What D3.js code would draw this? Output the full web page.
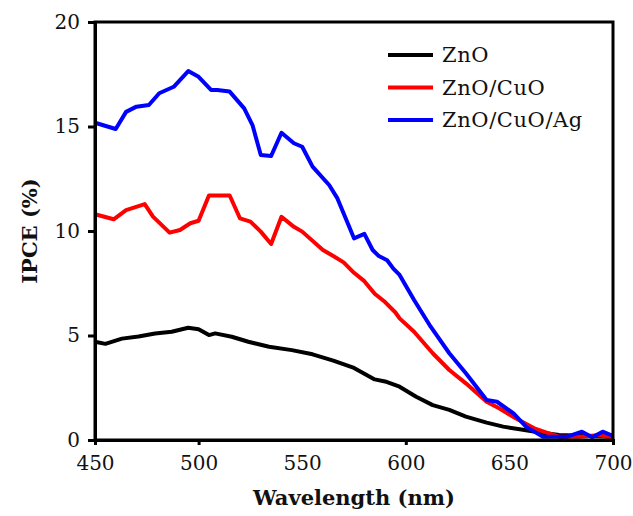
<!DOCTYPE html>
<html>
<head>
  <script src="https://d3js.org/d3.v7.min.js"></script>
  <style>
    body, html { margin: 0; padding: 0; background: #fff; overflow: hidden; }
    text { font-family: "DejaVu Serif", serif; fill: #111; }
  </style>
</head>
<body>
  <div id="chart"></div>
  <script>
    // series names and colours
    const seriesNames = ["ZnO", "ZnO/CuO", "ZnO/CuO/Ag"];
    const seriesColors = ["#000000", "#ff0000", "#0000ff"];

    // ZnO
    const znoWl = [450, 455, 463, 471, 479, 487, 495, 500, 505, 508, 516, 524, 534, 545, 555, 565, 575, 585, 590, 597, 605, 613, 621, 629, 639, 647, 655, 664, 674, 685, 700];
    const znoVal = [4.7, 4.6, 4.85, 4.95, 5.1, 5.18, 5.37, 5.3, 5.02, 5.1, 4.94, 4.7, 4.46, 4.3, 4.1, 3.8, 3.45, 2.9, 2.8, 2.55, 2.07, 1.67, 1.44, 1.12, 0.83, 0.64, 0.51, 0.37, 0.24, 0.2, 0.16];

    // ZnO/CuO
    const cuoWl = [450, 459, 465, 474, 478, 486, 491, 496, 500, 505, 515, 520, 525, 530, 535, 540, 546, 550, 560, 565, 570, 575, 580, 585, 590, 595, 597, 604, 613, 621, 629, 639, 645, 653, 662, 668, 674, 684, 694, 700];
    const cuoVal = [10.8, 10.56, 11.0, 11.29, 10.69, 9.92, 10.05, 10.37, 10.49, 11.7, 11.7, 10.6, 10.45, 9.97, 9.38, 10.68, 10.2, 9.97, 9.09, 8.8, 8.5, 8.0, 7.6, 7.0, 6.6, 6.1, 5.82, 5.18, 4.15, 3.35, 2.71, 1.83, 1.52, 1.04, 0.56, 0.35, 0.16, 0.16, 0.24, 0.05];

    // ZnO/CuO/Ag
    const agWl = [450, 460, 465, 470, 476, 481, 488, 495, 500, 506, 509, 515, 522, 526, 530, 535, 540, 546, 550, 555, 563, 567, 575, 580, 584, 587, 591, 594, 597, 604, 612, 621, 629, 639, 644, 652, 658, 666, 678, 685, 690, 695, 699, 700];
    const agVal = [15.18, 14.88, 15.7, 15.95, 16.03, 16.59, 16.9, 17.65, 17.38, 16.75, 16.75, 16.67, 15.87, 15.07, 13.64, 13.59, 14.7, 14.2, 14.03, 13.08, 12.2, 11.56, 9.65, 9.86, 9.09, 8.8, 8.6, 8.2, 7.9, 6.7, 5.42, 4.15, 3.19, 1.91, 1.83, 1.27, 0.64, 0.16, 0.16, 0.4, 0.13, 0.4, 0.24, 0.2];

    const xTicks = [450, 500, 550, 600, 650, 700];
    const yTicks = [0, 5, 10, 15, 20];

    const W = 633, H = 516;
    const m = { left: 95, right: 20, top: 22, bottom: 76 };

    const svg = d3.select("#chart").append("svg")
      .attr("width", W).attr("height", H);

    const x = d3.scaleLinear().domain([450, 700]).range([m.left, W - m.right]);
    const y = d3.scaleLinear().domain([0, 20]).range([H - m.bottom, m.top]);

    const series = [
      { wl: znoWl, val: znoVal },
      { wl: cuoWl, val: cuoVal },
      { wl: agWl, val: agVal }
    ];

    const line = d3.line().x(d => x(d[0])).y(d => y(d[1]));

    // curves
    series.forEach((s, i) => {
      svg.append("path")
        .datum(s.wl.map((w, j) => [w, s.val[j]]))
        .attr("fill", "none")
        .attr("stroke", seriesColors[i])
        .attr("stroke-width", 4)
        .attr("stroke-linejoin", "round")
        .attr("d", line);
    });

    // frame
    svg.append("rect")
      .attr("x", x(450)).attr("y", y(20))
      .attr("width", x(700) - x(450)).attr("height", y(0) - y(20))
      .attr("fill", "none").attr("stroke", "#000").attr("stroke-width", 3);

    // axes
    const xAxis = svg.append("g")
      .attr("transform", `translate(0,${y(0)})`)
      .call(d3.axisBottom(x).tickValues(xTicks).tickSize(5).tickPadding(11));
    const yAxis = svg.append("g")
      .attr("transform", `translate(${x(450)},0)`)
      .call(d3.axisLeft(y).tickValues(yTicks).tickSize(7).tickPadding(8));

    [xAxis, yAxis].forEach(g => {
      g.select(".domain").attr("stroke-width", 3);
      g.selectAll(".tick line").attr("stroke-width", 3);
      g.selectAll(".tick text").attr("font-size", 20)
        .attr("font-family", "DejaVu Serif, serif").attr("fill", "#111");
    });
    // shorter ticks at 550 and 650
    xAxis.selectAll(".tick line").filter(d => d === 550 || d === 650).attr("y2", 2);

    // axis titles
    svg.append("text")
      .attr("x", (x(450) + x(700)) / 2).attr("y", 505)
      .attr("text-anchor", "middle")
      .attr("font-size", 21).attr("font-weight", "bold")
      .text("Wavelength (nm)");

    svg.append("text")
      .attr("transform", `translate(37,${(y(0) + y(20)) / 2}) rotate(-90)`)
      .attr("text-anchor", "middle")
      .attr("font-size", 21).attr("font-weight", "bold")
      .text("IPCE (%)");

    // legend
    const legend = svg.append("g").attr("transform", "translate(388,55)");
    seriesNames.forEach((name, i) => {
      const row = legend.append("g").attr("transform", `translate(0,${i * 32.5})`);
      row.append("line")
        .attr("x1", 0).attr("x2", 45)
        .attr("stroke", seriesColors[i]).attr("stroke-width", 4);
      row.append("text")
        .attr("x", 54).attr("y", 7)
        .attr("font-size", 21)
        .attr("letter-spacing", 0.6)
        .text(name);
    });
  </script>
</body>
</html>
